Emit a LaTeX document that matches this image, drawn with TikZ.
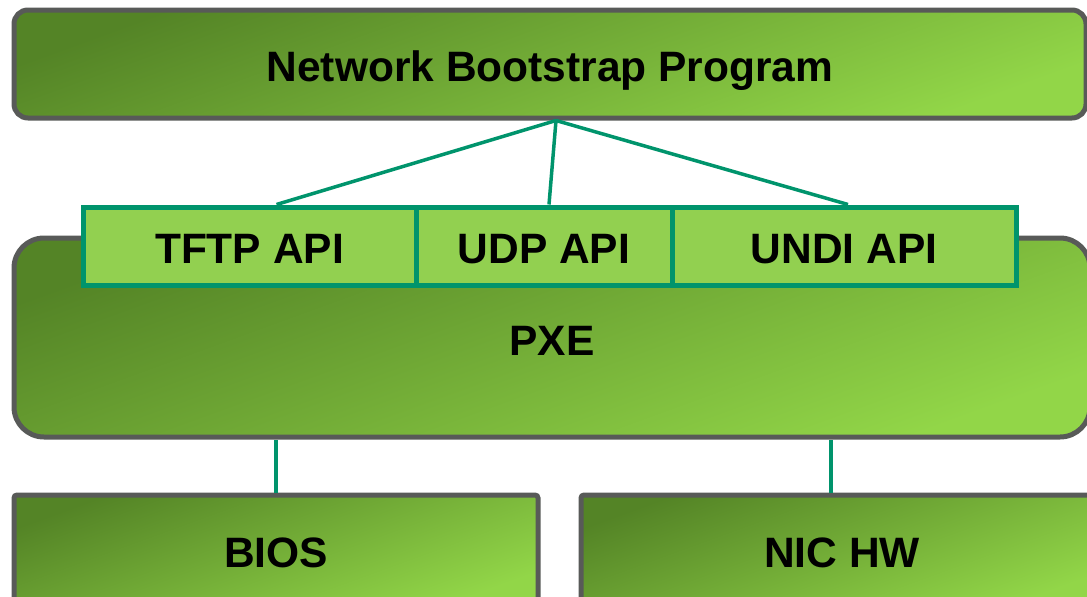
\documentclass[tikz,border=0pt]{standalone}
\usepackage{fontspec}
\setmainfont{Liberation Sans}
\definecolor{pxecolor0000}{RGB}{88,90,88}
\definecolor{pxecolor0001}{RGB}{84,132,38}
\definecolor{pxecolor0002}{RGB}{146,214,72}
\definecolor{pxecolor0003}{RGB}{146,208,80}
\definecolor{pxecolor0004}{RGB}{0,148,108}

\begin{document}
\begin{tikzpicture}[yscale=-1
                ,x=1pt,y=1pt
                ,pstyle1/.style={draw=pxecolor0000,line width=5pt,shading=axis,top color=pxecolor0001,bottom color=pxecolor0002,shading angle=20,inner sep=0pt,text height=35pt,text depth=0pt,font=\fontsize{42.5}{48}\selectfont\bfseries}
                ,pstyle2/.style={draw=pxecolor0004,fill=pxecolor0003,line width=5pt,inner sep=0pt,minimum height=78pt,text height=35pt,text depth=0pt,font=\fontsize{42.5}{48}\selectfont\bfseries}
                ,pstyle3/.style={color=pxecolor0004,line width=3.5pt}
            ]
            \useasboundingbox (0,0) rectangle (1087,597);
            \clip (0,0) rectangle (1087,597);
            \node[pstyle1,rounded corners=14pt,minimum width=1072pt,minimum height=108pt] (nbp) at (550,64) {Network Bootstrap Program};
            \node[pstyle1,rounded corners=30pt,minimum width=1076pt,minimum height=199pt] (pxe) at (552,337.5) {PXE};
            \node[pstyle2,minimum width=333pt] (tftp) at (249.5,246) {TFTP API};
            \node[pstyle2,minimum width=256pt] (udp) at (544,246) {UDP API};
            \node[pstyle2,minimum width=344pt] (undi) at (844,246) {UNDI API};
            \node[pstyle1,rounded corners=3pt,minimum width=524pt,minimum height=110pt] (bios) at (276,550) {BIOS};
            \node[pstyle1,rounded corners=3pt,minimum width=522pt,minimum height=110pt] (nic) at (842,550) {NIC HW};
            \coordinate (apex) at ([xshift=6pt]nbp.south);
            \coordinate (nictop) at ([xshift=-11pt]nic.north);
            \draw[pstyle3] (apex) -- ([xshift=27pt]tftp.north);
            \draw[pstyle3] (apex) -- ([xshift=5pt]udp.north);
            \draw[pstyle3] (apex) -- ([xshift=4pt]undi.north);
            \draw[pstyle3] (bios.north) -- (bios.north |- pxe.south);
            \draw[pstyle3] (nictop) -- (nictop |- pxe.south);
        \end{tikzpicture}
\end{document}
